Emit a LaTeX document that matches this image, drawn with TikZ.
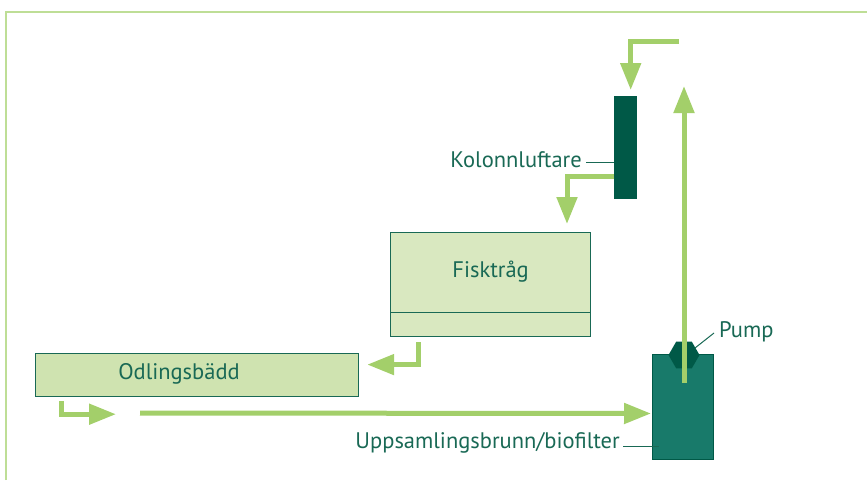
\documentclass[tikz,border=0pt]{standalone}
\usepackage{fontspec}
\setmainfont{PT Sans}
\usetikzlibrary{
  arrows.meta,
  positioning,
  shapes.geometric,
  calc
}
\definecolor{leaf}{RGB}{163,207,106}
\definecolor{pine}{RGB}{0,89,71}
\definecolor{tankgreen}{RGB}{24,122,106}
\definecolor{inkgreen}{RGB}{25,105,85}
\definecolor{trayfill}{RGB}{217,232,192}
\definecolor{bedfill}{RGB}{207,227,176}
\definecolor{framegreen}{RGB}{190,222,150}
\tikzset{
  flow/.style={leaf,line width=5pt,-{Triangle[length=27pt,width=20pt]}},
  tray/.style={draw=inkgreen,line width=1.2pt,fill=trayfill,inner sep=0pt,anchor=north west},
  lead/.style={inkgreen,line width=1pt},
  lbl/.style={text=inkgreen,font=\fontsize{22.5}{26}\selectfont,inner sep=0pt}
}

\begin{document}
\begin{tikzpicture}[x=1pt,y=-1pt]
  \useasboundingbox (0,0) rectangle (867,480);
  % frame
  \draw[framegreen,line width=2pt] (6,480) -- (6,12) -- (867,12);

  % tanks and beds
  \node[tray,minimum width=200pt,minimum height=104pt] (fisk) at (390,232) {};
  \draw[lead,line width=1.2pt] ($(fisk.south west)+(0,-25)$) -- ($(fisk.south east)+(0,-25)$);
  \node[lbl] (fisktext) at ($(fisk.north)+(0,40)$) {Fisktråg};

  \node[tray,fill=bedfill,minimum width=323pt,minimum height=43pt] (odling) at (35,353) {};
  \node[lbl] (odltext) at ($(odling.west)+(144,-1)$) {Odlingsbädd};

  \node[fill=pine,inner sep=0pt,minimum width=23pt,minimum height=103pt,anchor=north west] (col) at (614,96) {};
  \node[draw=pine,line width=1pt,fill=tankgreen,inner sep=0pt,minimum width=61pt,minimum height=105pt,anchor=north west] (tank) at (652,354) {};
  \node[regular polygon,regular polygon sides=6,fill=pine,inner sep=0pt,minimum size=31pt] (pump) at (684,355) {};

  % water flow
  \coordinate (outlet) at (679,41);
  \coordinate (intake) at (684,383);
  \coordinate (drain) at (140,413);
  \draw[flow] (outlet) -| ($(col.north)+(5,-6)$);
  \draw[flow] ($(col.south west)+(0,-23)$) -| ($(fisk.north west)+(177,-8)$);
  \draw[flow] ($(fisk.south west)+(28,5)$) |- ($(odling.east)+(8,-10.5)$);
  \draw[flow] ($(odling.south west)+(26,4)$) |- ($(odling.south west)+(81,17)$);
  \draw[flow] (drain) -- ($(tank.west)+(-1,6.5)$);
  \draw[flow] (intake) -- ($(intake)+(0,-297)$);

  % labels
  \node[lbl,anchor=east] (kol) at (582,160) {Kolonnluftare};
  \draw[lead] ($(kol.east)+(4,2)$) -- ($(kol.east -| col.west)+(0,2)$);
  \node[lbl,anchor=west] (pumplbl) at (719,332) {Pump};
  \draw[lead] ($(pump.center)+(11,-7)$) -- ($(pumplbl.west)+(-5,1)$);
  \node[lbl,anchor=east] (brunn) at (620,443) {Uppsamlingsbrunn/biofilter};
  \draw[lead] ($(brunn.east)+(3,3)$) -- ($(brunn.east)+(39,3)$);
\end{tikzpicture}
\end{document}
